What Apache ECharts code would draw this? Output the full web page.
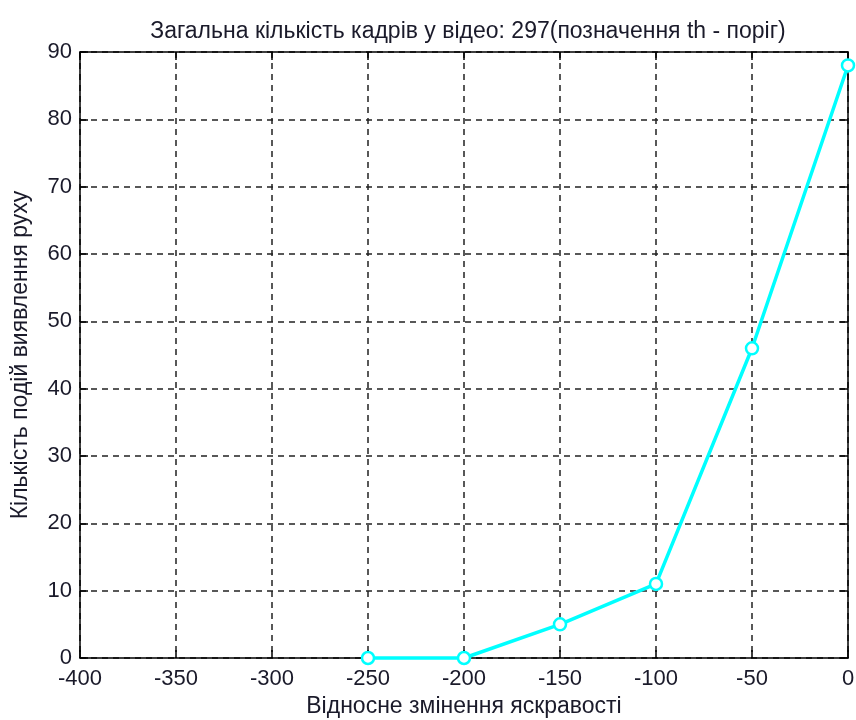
<!DOCTYPE html>
<html>
<head>
<meta charset="utf-8">
<script src="https://cdn.jsdelivr.net/npm/echarts@6/dist/echarts.min.js"></script>
<style>
  html, body { margin: 0; padding: 0; background: #fff; }
  #chart { width: 856px; height: 720px; }
</style>
</head>
<body>
<div id="chart"></div>
<script>
// Brightness change (x) vs. number of detected motion events (y)
const brightnessChange = [-250, -200, -150, -100, -50, 0];
const motionEvents = [0, 0, 5, 11, 46, 88];

const titleText = 'Загальна кількість кадрів у відео: 297(позначення th - поріг)';
const xName = 'Відносне змінення яскравості';
const yName = 'Кількість подій виявлення руху';

const FONT = '"Liberation Sans", Arial, sans-serif';
const TEXT_COLOR = '#1a1a2a';

const chart = echarts.init(document.getElementById('chart'), null, { renderer: 'canvas' });

const gridLine = { show: true, lineStyle: { color: '#222', width: 1.5, type: [6, 5] } };
const axisLine = { show: true, onZero: false, lineStyle: { color: '#000', width: 1.5 } };
const tick = { show: true, inside: true, length: 8, lineStyle: { color: '#000', width: 1.5 } };

chart.setOption({
  backgroundColor: '#fff',
  animation: false,
  title: {
    text: titleText,
    left: 463, top: 15, textAlign: 'center',
    textStyle: { fontFamily: FONT, fontSize: 23, fontWeight: 'normal', color: TEXT_COLOR }
  },
  grid: { left: 80, right: 8, top: 52, bottom: 62, containLabel: false, outerBoundsMode: 'none' },
  xAxis: [
    {
      type: 'value', min: -400, max: 0, interval: 50, position: 'bottom',
      name: xName, nameLocation: 'middle', nameGap: 34,
      nameTextStyle: { fontFamily: FONT, fontSize: 23, color: TEXT_COLOR },
      axisLine, axisTick: tick, splitLine: gridLine,
      axisLabel: { fontFamily: FONT, fontSize: 22, color: TEXT_COLOR, margin: 10 }
    },
    {
      type: 'value', min: -400, max: 0, interval: 50, position: 'top',
      axisLine, axisTick: tick, splitLine: { show: false }, axisLabel: { show: false }
    }
  ],
  yAxis: [
    {
      type: 'value', min: 0, max: 90, interval: 10, position: 'left',
      name: yName, nameLocation: 'middle', nameGap: 48, nameRotate: 90,
      nameTextStyle: { fontFamily: FONT, fontSize: 23, color: TEXT_COLOR },
      axisLine, axisTick: tick, splitLine: gridLine,
      axisLabel: { fontFamily: FONT, fontSize: 22, color: TEXT_COLOR, margin: 8 }
    },
    {
      type: 'value', min: 0, max: 90, interval: 10, position: 'right',
      axisLine, axisTick: tick, splitLine: { show: false }, axisLabel: { show: false }
    }
  ],
  series: [{
    type: 'line',
    data: brightnessChange.map((x, i) => [x, motionEvents[i]]),
    lineStyle: { color: '#00ffff', width: 3.5 },
    itemStyle: { color: '#ffffff', borderColor: '#00ffff', borderWidth: 2.5 },
    symbol: 'circle', symbolSize: 12,
    clip: false, z: 5
  }]
});
</script>
</body>
</html>
